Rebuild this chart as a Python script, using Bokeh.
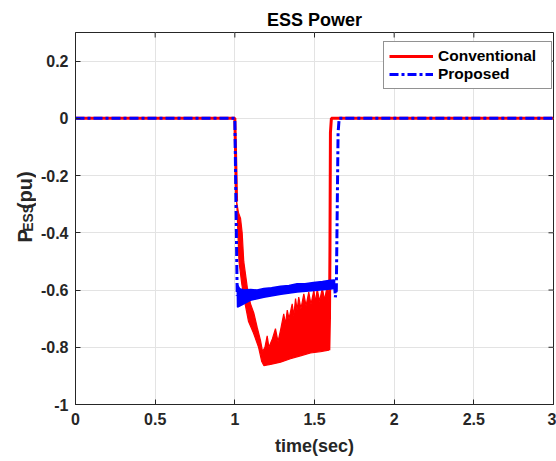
import math
from bokeh.plotting import figure
from bokeh.layouts import row
from bokeh.models import Legend, LegendItem, FixedTicker, Range1d
from bokeh.core.properties import value
from bokeh.embed import file_html
from bokeh.resources import INLINE

# ---- axis ticks ---------------------------------------------------------
x_ticks = [0, 0.5, 1, 1.5, 2, 2.5, 3]
x_tick_labels = ["0", "0.5", "1", "1.5", "2", "2.5", "3"]
y_ticks = [-1, -0.8, -0.6, -0.4, -0.2, 0, 0.2]
y_tick_labels = ["-1", "-0.8", "-0.6", "-0.4", "-0.2", "0", "0.2"]

# ---- Conventional controller: ESS power (pu) ---------------------------
conv_pre_t = [0.0, 1.0, 1.011]
conv_pre_p = [0.0, 0.0, -0.29]
# envelope of the fast oscillation while the ESS is discharging
conv_upper_t = [1.011, 1.023, 1.036, 1.046, 1.056, 1.078, 1.098, 1.119, 1.140,
                1.161, 1.174, 1.189, 1.203, 1.214, 1.236, 1.255, 1.271, 1.287,
                1.307, 1.318, 1.329, 1.340, 1.360, 1.370, 1.381, 1.391, 1.401,
                1.415, 1.433, 1.447, 1.464, 1.478, 1.496, 1.506, 1.517, 1.532,
                1.549, 1.563, 1.580, 1.590]
conv_upper_p = [-0.29, -0.33, -0.35, -0.40, -0.50, -0.59, -0.648, -0.68, -0.73,
                -0.776, -0.815, -0.80, -0.76, -0.80, -0.77, -0.735, -0.78, -0.74,
                -0.683, -0.72, -0.67, -0.70, -0.648, -0.69, -0.63, -0.67, -0.625,
                -0.665, -0.613, -0.655, -0.607, -0.65, -0.60, -0.645, -0.596, -0.64,
                -0.592, -0.635, -0.584, -0.62]
conv_lower_t = [1.011, 1.014, 1.026, 1.044, 1.065, 1.086, 1.117, 1.149, 1.169,
                1.182, 1.224, 1.287, 1.349, 1.412, 1.475, 1.538, 1.590]
conv_lower_p = [-0.29, -0.32, -0.50, -0.58, -0.65, -0.71, -0.75, -0.80, -0.85,
                -0.864, -0.86, -0.852, -0.84, -0.83, -0.82, -0.815, -0.81]
conv_post_t = [1.590, 1.594, 1.597, 1.600, 1.606, 3.0]
conv_post_p = [-0.81, -0.70, -0.46, -0.05, 0.0, 0.0]

# ---- Proposed controller: ESS power (pu) -------------------------------
prop_pre_t = [0.0, 1.0, 1.015]
prop_pre_p = [0.0, 0.0, -0.62]
prop_upper_t = [1.015, 1.030, 1.056, 1.100, 1.140, 1.182, 1.230, 1.287, 1.340,
                1.391, 1.440, 1.494, 1.550, 1.600, 1.626]
prop_upper_p = [-0.58, -0.595, -0.600, -0.598, -0.600, -0.595, -0.592, -0.587,
                -0.584, -0.578, -0.578, -0.574, -0.570, -0.566, -0.565]
prop_lower_t = [1.017, 1.036, 1.098, 1.182, 1.290, 1.391, 1.500, 1.600, 1.626]
prop_lower_p = [-0.66, -0.654, -0.636, -0.625, -0.615, -0.607, -0.602, -0.596,
                -0.595]
prop_post_t = [1.626, 1.631, 1.637, 1.641, 1.648, 1.655, 3.0]
prop_post_p = [-0.58, -0.625, -0.60, -0.40, -0.05, 0.0, 0.0]

# ---- layout --------------------------------------------------------------
W, H = 556, 461
STRIP = 36                      # narrow panel carrying the rotated y label
LEFT, RIGHT, TOP, BOTTOM = 75, 3, 32, 57
X0, X1 = 0.0, 3.0
Y0, Y1 = -1.0, 0.3
FONT = "Liberation Sans"
AX_COLOR = "#262626"
FRAME_W = W - LEFT - RIGHT
FRAME_H = H - TOP - BOTTOM
TICK = 5                        # inward tick length, px

p = figure(width=W - STRIP, height=H, output_backend="svg",
           toolbar_location=None,
           x_range=Range1d(X0, X1), y_range=Range1d(Y0, Y1),
           min_border_left=LEFT - STRIP, min_border_right=RIGHT,
           min_border_top=TOP, min_border_bottom=BOTTOM)
p.background_fill_color = "white"
p.border_fill_color = "white"
p.outline_line_color = AX_COLOR
p.outline_line_width = 1

p.title.text = "ESS Power"
p.title.align = "center"
p.title.text_font = FONT
p.title.text_font_size = "18px"
p.title.text_font_style = "bold"
p.title.text_color = "#000000"
p.title.standoff = 6

for ax, ticks, labels in ((p.xaxis[0], x_ticks, x_tick_labels),
                          (p.yaxis[0], y_ticks, y_tick_labels)):
    ax.ticker = FixedTicker(ticks=ticks)
    ax.major_label_overrides = dict(zip(ticks, labels))
    ax.major_label_text_font = FONT
    ax.major_label_text_font_size = "16px"
    ax.major_label_text_font_style = "bold"
    ax.major_label_text_color = AX_COLOR
    ax.axis_line_color = AX_COLOR
    ax.major_tick_line_color = AX_COLOR
    ax.major_tick_in = TICK
    ax.major_tick_out = 0
    ax.minor_tick_line_color = None

p.xaxis[0].major_label_standoff = 8
p.yaxis[0].major_label_standoff = 7
p.xaxis[0].axis_label = "time(sec)"
p.xaxis[0].axis_label_text_font = FONT
p.xaxis[0].axis_label_text_font_size = "18px"
p.xaxis[0].axis_label_text_font_style = "bold"
p.xaxis[0].axis_label_text_color = AX_COLOR
p.xaxis[0].axis_label_standoff = 8

p.xgrid.ticker = FixedTicker(ticks=x_ticks)
p.ygrid.ticker = FixedTicker(ticks=y_ticks)
p.grid.grid_line_color = "#e3e3e3"
p.grid.grid_line_width = 1

# inward ticks along the top and right edges of the box
tx = TICK / FRAME_W * (X1 - X0)
ty = TICK / FRAME_H * (Y1 - Y0)
p.segment(x0=x_ticks, x1=x_ticks, y0=[Y1] * len(x_ticks),
          y1=[Y1 - ty] * len(x_ticks), line_color=AX_COLOR, line_width=1)
p.segment(x0=[X1] * len(y_ticks), x1=[X1 - tx] * len(y_ticks),
          y0=y_ticks, y1=y_ticks, line_color=AX_COLOR, line_width=1)

# ---- curves --------------------------------------------------------------
RED, BLUE = "#ff0000", "#0000ff"

r_pre = p.line(conv_pre_t, conv_pre_p, line_color=RED, line_width=3)
r_band = p.patch(conv_upper_t + conv_lower_t[::-1],
                 conv_upper_p + conv_lower_p[::-1],
                 fill_color=RED, line_color=RED, line_width=1.2)
r_post = p.line(conv_post_t, conv_post_p, line_color=RED, line_width=3)

DASH = "9 3 3 3"
b_pre = p.line(prop_pre_t, prop_pre_p, line_color=BLUE, line_width=3,
               line_dash=DASH)
b_band = p.patch(prop_upper_t + prop_lower_t[::-1],
                 prop_upper_p + prop_lower_p[::-1],
                 fill_color=BLUE, line_color=BLUE, line_width=1.5)
b_post = p.line(prop_post_t, prop_post_p, line_color=BLUE, line_width=3,
                line_dash=DASH)

legend = Legend(items=[LegendItem(label="Conventional", renderers=[r_pre]),
                       LegendItem(label="Proposed", renderers=[b_pre])],
                location=(308, 315))
legend.label_text_font = FONT
legend.label_text_font_size = "15.5px"
legend.label_text_font_style = "bold"
legend.label_text_color = "#000000"
legend.label_height = 18
legend.glyph_height = 18
legend.glyph_width = 44
legend.label_width = 108
legend.label_standoff = 5
legend.padding = 5
legend.spacing = 0
legend.margin = 0
legend.border_line_color = AX_COLOR
legend.border_line_width = 1
legend.background_fill_color = "white"
legend.background_fill_alpha = 1.0
p.add_layout(legend)

# ---- y-axis label panel: P with subscript ESS, reading upward -------------
lab = figure(width=STRIP, height=H, output_backend="svg", toolbar_location=None,
             x_range=Range1d(0, STRIP), y_range=Range1d(0, H),
             x_axis_type=None, y_axis_type=None,
             min_border=0, outline_line_color=None)
lab.grid.visible = False
lab.background_fill_color = "white"
lab.border_fill_color = "white"

big, small = 20, 14
parts = [("P", big, 24, 0.667 * big),
         ("ESS", small, 27, 3 * 0.667 * small),
         (" (pu)", big, 24, (0.278 + 0.333 + 0.611 + 0.611 + 0.333) * big)]
total = sum(w for *_, w in parts)
# distance of the first glyph from the top of the canvas
start = TOP + FRAME_H / 2 + total / 2
for txt, size, base_x, adv in parts:
    lab.text(x=[base_x], y=[H - start], text=[txt], angle=math.pi / 2,
             text_font=value(FONT), text_font_size=value(f"{size}px"),
             text_font_style="bold", text_color=AX_COLOR,
             text_align="left", text_baseline="alphabetic")
    start -= adv

layout = row(lab, p, spacing=0)
open("out.html", "w").write(file_html(layout, INLINE))
